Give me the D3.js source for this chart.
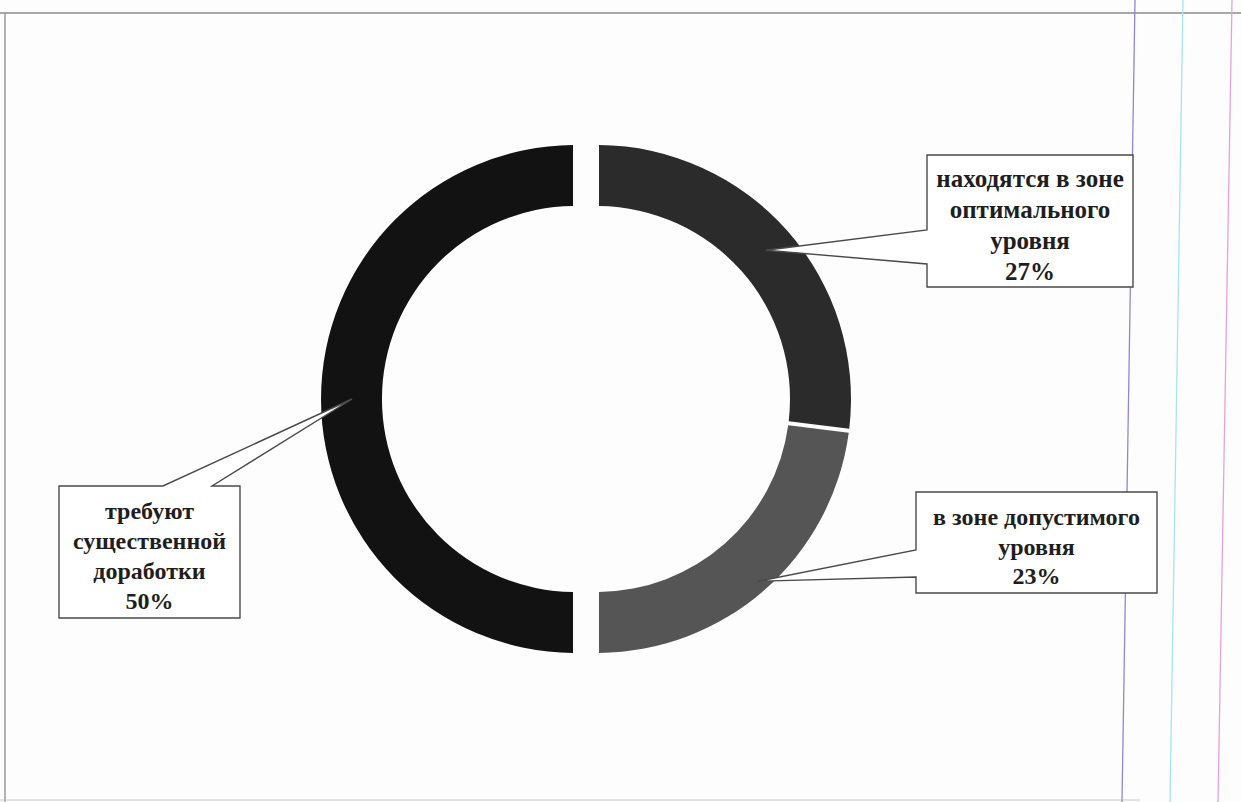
<!DOCTYPE html>
<html>
<head>
<meta charset="utf-8">
<script src="https://d3js.org/d3.v7.min.js"></script>
<style>
    html, body { margin: 0; padding: 0; background: #fdfdfd; }
    svg { display: block; }
</style>
</head>
<body>
<div id="chart"></div>
<script>
// Data: slices clockwise from 12 o'clock
const categories = ['находятся в зоне оптимального уровня', 'в зоне допустимого уровня', 'требуют существенной доработки'];
const values = [27, 23, 50];
const labelLines = [
    ['находятся в зоне', 'оптимального', 'уровня'],
    ['в зоне допустимого', 'уровня'],
    ['требуют', 'существенной', 'доработки']
];
const sliceColors = ['#2b2b2b', '#555555', '#121212'];

// Callout box layout (left, top, right, bottom), where the wedge leaves the box,
// and how far out from the centre the wedge tip sits
const boxes = [
    { x0: 927, y0: 155, x1: 1133, y1: 287, side: 'left', a: 230, b: 264, tipR: 225, size: 25, lineH: 31 },
    { x0: 916, y0: 492, x1: 1157, y1: 593, side: 'left', a: 550, b: 577, tipR: 243, size: 24, lineH: 29.5 },
    { x0: 59,  y0: 486, x1: 240,  y1: 618, side: 'top',  a: 163, b: 212, tipR: 223, size: 24, lineH: 30 }
];

const width = 1241, height = 802;
const cx = 597, cy = 399;
const outerR = 254, innerR = 193;
const explode = 22; // the 50% slice is pulled to the left

const svg = d3.select('#chart').append('svg')
    .attr('width', width)
    .attr('height', height);

svg.append('rect')
    .attr('width', width)
    .attr('height', height)
    .attr('fill', '#fdfdfd');

// Scan frame
svg.append('line').attr('x1', 0).attr('x2', width).attr('y1', 13).attr('y2', 13)
    .attr('stroke', '#8a8a8a').attr('stroke-width', 1.5);
svg.append('line').attr('x1', 5).attr('x2', 5).attr('y1', 13).attr('y2', height)
    .attr('stroke', '#9a9a9a').attr('stroke-width', 1.5);
svg.append('line').attr('x1', 0).attr('x2', 1140).attr('y1', 800).attr('y2', 800)
    .attr('stroke', '#c8c8c8').attr('stroke-width', 1);

// Notebook ruling lines on the right
[[1135, 1122, '#8f87d6'], [1183, 1170, '#a8e4ee'], [1232, 1218, '#e6a3d8']].forEach(([xt, xb, c]) => {
    svg.append('line')
        .attr('x1', xt).attr('y1', 0).attr('x2', xb).attr('y2', height)
        .attr('stroke', c).attr('stroke-width', 1.3);
});

const pie = d3.pie().sort(null).value(d => d)
    .startAngle(0).endAngle(2 * Math.PI);
const arcs = pie(values);

const arc = d3.arc()
    .innerRadius(innerR)
    .outerRadius(outerR)
    .padAngle(0.016)
    .padRadius(250);

const offsetOf = i => i === 2 ? [-explode, 0] : [0, 0];

const g = svg.append('g');

g.selectAll('path.slice')
    .data(arcs)
    .enter()
    .append('path')
    .attr('class', 'slice')
    .attr('transform', (d, i) => `translate(${cx + offsetOf(i)[0]},${cy + offsetOf(i)[1]})`)
    .attr('d', arc)
    .attr('fill', (d, i) => sliceColors[i]);

// Callouts
arcs.forEach((d, i) => {
    const b = boxes[i];
    const [c0, c1] = d3.arc().innerRadius(b.tipR).outerRadius(b.tipR).centroid(d);
    const px = cx + offsetOf(i)[0] + c0;
    const py = cy + offsetOf(i)[1] + c1;

    let p;
    if (b.side === 'left') {
        p = `M${b.x0},${b.y0} L${b.x1},${b.y0} L${b.x1},${b.y1} L${b.x0},${b.y1} L${b.x0},${b.b} L${px},${py} L${b.x0},${b.a} Z`;
    } else {
        p = `M${b.x0},${b.y0} L${b.a},${b.y0} L${px},${py} L${b.b},${b.y0} L${b.x1},${b.y0} L${b.x1},${b.y1} L${b.x0},${b.y1} Z`;
    }
    svg.append('path')
        .attr('d', p)
        .attr('fill', '#ffffff')
        .attr('stroke', '#4a4a4a')
        .attr('stroke-width', 1.4)
        .attr('stroke-linejoin', 'miter');

    const lines = labelLines[i].concat([values[i] + '%']);
    const midX = (b.x0 + b.x1) / 2;
    const firstY = (b.y0 + b.y1) / 2 - (lines.length - 1) * b.lineH / 2 + 12;

    const t = svg.append('text')
        .attr('text-anchor', 'middle')
        .attr('font-family', '"Liberation Serif", "DejaVu Serif", serif')
        .attr('font-size', b.size + 'px')
        .attr('font-weight', 'bold')
        .attr('fill', '#1e1e1e');

    lines.forEach((ln, k) => {
        t.append('tspan')
            .attr('x', midX)
            .attr('y', firstY + k * b.lineH)
            .text(ln);
    });
});
</script>
</body>
</html>
